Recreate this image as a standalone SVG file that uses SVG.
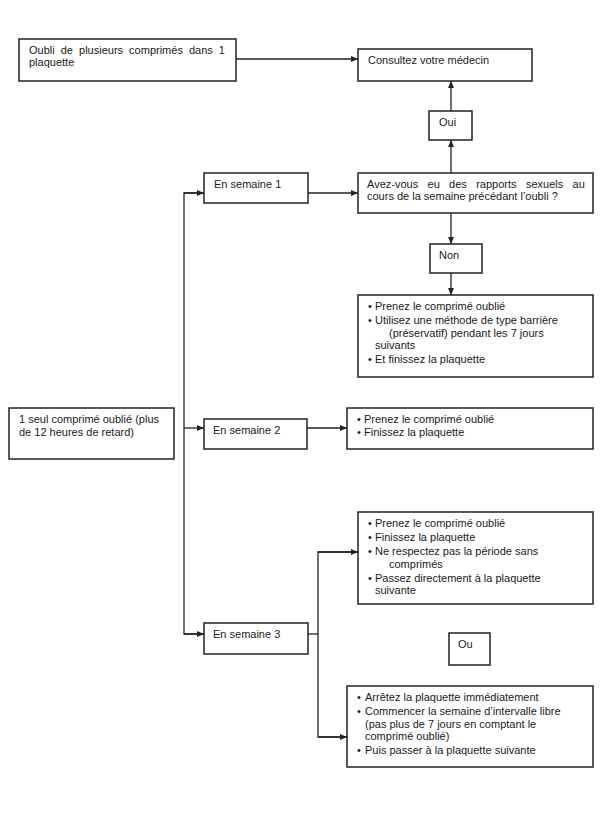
<svg xmlns="http://www.w3.org/2000/svg" width="611" height="813" viewBox="0 0 611 813">
<style>
.box{fill:#fff;stroke:#222;stroke-width:1.5}
.t{font-family:"Liberation Sans",Arial,sans-serif;font-size:11px;fill:#1a1a1a}
.c{stroke:#222;stroke-width:1.3;fill:none}
</style>
<defs>
<marker id="ah" markerUnits="userSpaceOnUse" markerWidth="8" markerHeight="8" refX="7" refY="3" orient="auto">
<path d="M0,0 L7,3 L0,6 z" fill="#222"/>
</marker>
</defs>
<rect width="611" height="813" fill="#fff"/>
<g id="connectors">
<line class="c" x1="236" y1="59" x2="358" y2="59" marker-end="url(#ah)"/>
<line class="c" x1="451" y1="111" x2="451" y2="81" marker-end="url(#ah)"/>
<line class="c" x1="451" y1="173" x2="451" y2="140" marker-end="url(#ah)"/>
<line class="c" x1="451" y1="213" x2="451" y2="244" marker-end="url(#ah)"/>
<line class="c" x1="451" y1="273" x2="451" y2="295" marker-end="url(#ah)"/>
<polyline class="c" points="204,193 184,193 184,634 204,634"/>
<line class="c" x1="184" y1="193" x2="204" y2="193" marker-end="url(#ah)"/>
<line class="c" x1="184" y1="428" x2="204" y2="428" marker-end="url(#ah)"/>
<line class="c" x1="184" y1="634" x2="204" y2="634" marker-end="url(#ah)"/>
<line class="c" x1="308" y1="193" x2="358" y2="193" marker-end="url(#ah)"/>
<line class="c" x1="307" y1="428" x2="347" y2="428" marker-end="url(#ah)"/>
<polyline class="c" points="308,634 318,634"/>
<polyline class="c" points="358,552 318,552 318,737 347,737"/>
<line class="c" x1="318" y1="552" x2="358" y2="552" marker-end="url(#ah)"/>
<line class="c" x1="318" y1="737" x2="347" y2="737" marker-end="url(#ah)"/>
</g>
<g id="n-oubli-plusieurs">
<rect class="box" x="19" y="39" width="217" height="42"/>
<text class="t" x="29" y="54" word-spacing="3">Oubli de plusieurs comprimés dans 1</text>
<text class="t" x="29" y="66">plaquette</text>
</g>
<g id="n-consultez">
<rect class="box" x="358" y="49" width="174" height="32"/>
<text class="t" x="368" y="64">Consultez votre médecin</text>
</g>
<g id="n-oui">
<rect class="box" x="429" y="111" width="43" height="29"/>
<text class="t" x="439" y="126">Oui</text>
</g>
<g id="n-semaine1">
<rect class="box" x="204" y="173" width="104" height="30"/>
<text class="t" x="214" y="188">En semaine 1</text>
</g>
<g id="n-avez-vous">
<rect class="box" x="358" y="173" width="235" height="40"/>
<text class="t" x="367" y="188" word-spacing="6.3">Avez-vous eu des rapports sexuels au</text>
<text class="t" x="367" y="200">cours de la semaine précédant l’oubli ?</text>
</g>
<g id="n-non">
<rect class="box" x="430" y="244" width="52" height="29"/>
<text class="t" x="439" y="259">Non</text>
</g>
<g id="n-liste1">
<rect class="box" x="358" y="295" width="235" height="82"/>
<text class="t" x="368" y="310">•</text><text class="t" x="375" y="310">Prenez le comprimé oublié</text>
<text class="t" x="368" y="324">•</text><text class="t" x="375" y="324">Utilisez une méthode de type barrière</text>
<text class="t" x="389" y="336.5">(préservatif) pendant les 7 jours</text>
<text class="t" x="375" y="349">suivants</text>
<text class="t" x="368" y="363">•</text><text class="t" x="375" y="363">Et finissez la plaquette</text>
</g>
<g id="n-un-seul">
<rect class="box" x="9" y="408" width="165" height="51"/>
<text class="t" x="19" y="423">1 seul comprimé oublié (plus</text>
<text class="t" x="19" y="436">de 12 heures de retard)</text>
</g>
<g id="n-semaine2">
<rect class="box" x="204" y="419" width="103" height="30"/>
<text class="t" x="213" y="434">En semaine 2</text>
</g>
<g id="n-liste2">
<rect class="box" x="347" y="408" width="246" height="41"/>
<text class="t" x="357" y="423">•</text><text class="t" x="364" y="423">Prenez le comprimé oublié</text>
<text class="t" x="357" y="436">•</text><text class="t" x="364" y="436">Finissez la plaquette</text>
</g>
<g id="n-liste3a">
<rect class="box" x="358" y="512" width="235" height="92"/>
<text class="t" x="368" y="527">•</text><text class="t" x="375" y="527">Prenez le comprimé oublié</text>
<text class="t" x="368" y="541">•</text><text class="t" x="375" y="541">Finissez la plaquette</text>
<text class="t" x="368" y="555">•</text><text class="t" x="375" y="555">Ne respectez pas la période sans</text>
<text class="t" x="389" y="567.5">comprimés</text>
<text class="t" x="368" y="581.5">•</text><text class="t" x="375" y="581.5">Passez directement à la plaquette</text>
<text class="t" x="375" y="594">suivante</text>
</g>
<g id="n-semaine3">
<rect class="box" x="204" y="623" width="104" height="31"/>
<text class="t" x="213" y="638">En semaine 3</text>
</g>
<g id="n-ou">
<rect class="box" x="449" y="633" width="41" height="32"/>
<text class="t" x="458" y="648">Ou</text>
</g>
<g id="n-liste3b">
<rect class="box" x="347" y="686" width="246" height="81"/>
<text class="t" x="357" y="701">•</text><text class="t" x="365" y="701">Arrêtez la plaquette immédiatement</text>
<text class="t" x="357" y="715">•</text><text class="t" x="365" y="715">Commencer la semaine d’intervalle libre</text>
<text class="t" x="365" y="727.5">(pas plus de 7 jours en comptant le</text>
<text class="t" x="365" y="740">comprimé oublié)</text>
<text class="t" x="357" y="754">•</text><text class="t" x="365" y="754">Puis passer à la plaquette suivante</text>
</g>
</svg>
